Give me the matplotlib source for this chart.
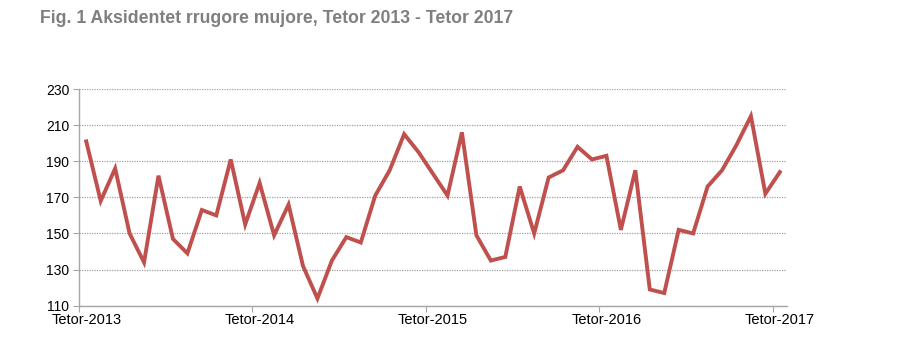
import matplotlib
matplotlib.use("Agg")
import matplotlib.pyplot as plt
import numpy as np

TITLE = "Fig. 1 Aksidentet rrugore mujore, Tetor 2013 - Tetor 2017"
YEAR_LABELS = ["Tetor-2013", "Tetor-2014", "Tetor-2015", "Tetor-2016", "Tetor-2017"]
ACCIDENTS = [
    201, 168, 186, 150, 134, 182, 147, 139, 163, 160, 191, 155,
    178, 149, 166, 132, 114, 135, 148, 145, 171, 185, 205, 195,
    183, 171, 206, 149, 135, 137, 176, 150, 181, 185, 198, 191,
    193, 152, 185, 119, 117, 152, 150, 176, 185, 199, 215, 172,
    184,
]
Y_TICKS = [110, 130, 150, 170, 190, 210, 230]

LINE_COLOR = "#C0504D"
AXIS_COLOR = "#A6A6A6"

plt.rcParams["font.family"] = ["Liberation Sans", "DejaVu Sans"]

fig = plt.figure(figsize=(9.0, 3.62), dpi=100)
ax = fig.add_axes([0.0878, 0.1555, 0.7867, 0.5986])

x = np.arange(len(ACCIDENTS))
ax.plot(x, ACCIDENTS, color=LINE_COLOR, linewidth=2.8, solid_joinstyle="miter")

ax.set_xlim(-0.5, len(ACCIDENTS) - 0.5)
ax.set_ylim(Y_TICKS[0], Y_TICKS[-1])
ax.set_yticks(Y_TICKS)
ax.grid(axis="y", linestyle=(0, (1, 1)), color="#A0A0A0", linewidth=0.9)
ax.set_axisbelow(True)

# tick marks between months, labels under each October
ax.set_xticks(np.arange(-0.5, len(ACCIDENTS), 12))
ax.set_xticklabels([])
ax.set_xticks(np.arange(0, len(ACCIDENTS), 12), minor=True)
ax.set_xticklabels(YEAR_LABELS, minor=True)
ax.tick_params(axis="x", which="major", length=4, color=AXIS_COLOR, direction="out")
ax.tick_params(axis="x", which="minor", length=0, pad=5, labelsize=10.5)
ax.tick_params(axis="y", length=4, color=AXIS_COLOR, labelsize=10, pad=3)

for side in ["top", "right"]:
    ax.spines[side].set_visible(False)
for side in ["left", "bottom"]:
    ax.spines[side].set_color(AXIS_COLOR)
    ax.spines[side].set_linewidth(1.0)

fig.text(0.044, 0.95, TITLE, fontweight="bold", fontsize=12.7,
         color="#7F7F7F", ha="left", va="center")

fig.savefig("out.png", dpi=100)
